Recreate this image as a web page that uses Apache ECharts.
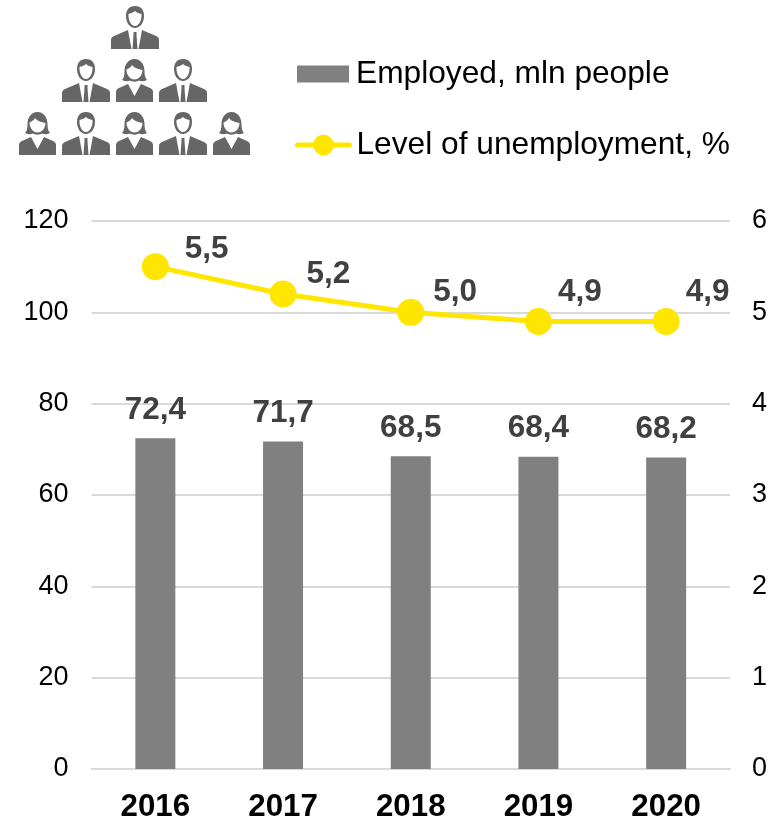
<!DOCTYPE html>
<html>
<head>
<meta charset="utf-8">
<style>html,body{margin:0;padding:0;background:#fff}#chart{width:784px;height:820px}</style>
<script src="https://cdn.jsdelivr.net/npm/echarts@6/dist/echarts.min.js"></script>
</head>
<body>
<div id="chart"></div>
<script>
const years = ['2016', '2017', '2018', '2019', '2020'];
const employed = [72.4, 71.7, 68.5, 68.4, 68.2];
const unemployment = [5.5, 5.2, 5.0, 4.9, 4.9];
const employedTicks = { min: 0, max: 120, interval: 20 };
const unemploymentTicks = { min: 0, max: 6, interval: 1 };

// Per-point nudges for the unemployment labels
const rateLabelOffsets = [[16, -17], [10, -20], [9, -20], [6, -29], [6, -29]];

const FONT = '"Liberation Sans", Arial, sans-serif';
const comma = v => v.toFixed(1).replace('.', ',');

// Pictograms in a 48x43 box; inner subpaths wind the other way to cut out faces and shirts
const manIcon = 'M24 0C30 0 33 4 33 10C33 17 29 22 24 22C19 22 15 17 15 10C15 4 18 0 24 0Z' +
  'M24 5C22 7 19 7.5 17.5 8C17 14 20 20 24 20C28 20 31 14 30.5 8C28 7.5 26 7 24 5Z' +
  'M0 43L0 34C0 32 1 31 3 30L17 24L20.5 43Z' +
  'M48 43L48 34C48 32 47 31 45 30L31 24L27.5 43Z' +
  'M22.5 26L25.5 26L25.5 29L26.5 43L21.5 43L22.5 29Z';
const womanIcon = 'M18.5 0C25 0 28.5 6 28.5 12C28.5 16 29 19 31 21C28 22.5 25 22.5 23 21.5C21 23 16 23 14 21.5C12 22.5 9 22.5 6 21C8 19 8.5 16 8.5 12C8.5 6 12 0 18.5 0Z' +
  'M16 6C15 8 12.5 10 10.5 10.5C10.5 16 14 20.5 18.5 20.5C23 20.5 26.5 16 26.5 11C22 10 18 9 16 6Z' +
  'M0 43L0 33C0 31 1 30 3 29L12 25L18.5 37L25 25L34 29C36 30 37 31 37 33L37 43Z';

const iconPlacements = [
  ['man', 111, 6],
  ['man', 62, 59], ['woman', 116, 59], ['man', 159, 59],
  ['woman', 19, 112], ['man', 62, 112], ['woman', 116, 112], ['man', 159, 112], ['woman', 213, 112]
];

const chart = echarts.init(document.getElementById('chart'), null, { renderer: 'canvas' });
chart.setOption({
  backgroundColor: '#ffffff',
  animation: false,
  textStyle: { fontFamily: FONT },
  legend: [
    {
      left: 297, top: 58, itemWidth: 52, itemHeight: 17, padding: 0,
      icon: 'rect',
      data: ['Employed, mln people'],
      textStyle: { fontSize: 31.7, color: '#000000', fontFamily: FONT, padding: [4, 0, 0, 2] }
    },
    {
      left: 295, top: 129, itemWidth: 52, itemHeight: 26, padding: 0,
      lineStyle: { width: 5, cap: 'round' },
      data: ['Level of unemployment, %'],
      textStyle: { fontSize: 31.7, color: '#000000', fontFamily: FONT, padding: [2, 0, 0, 2] }
    }
  ],
  grid: { left: 91.5, right: 54, top: 221, bottom: 51, outerBoundsMode: 'none' },
  xAxis: {
    type: 'category',
    data: years,
    axisTick: { show: false },
    axisLine: { lineStyle: { color: '#D9D9D9', width: 2 } },
    axisLabel: { fontSize: 31.3, fontWeight: 'bold', color: '#000000', margin: 23, fontFamily: FONT }
  },
  yAxis: [
    {
      type: 'value',
      ...employedTicks,
      axisLine: { show: false },
      axisTick: { show: false },
      splitLine: { lineStyle: { color: '#D9D9D9', width: 2 } },
      axisLabel: { fontSize: 27, color: '#000000', margin: 23, fontFamily: FONT, padding: [3, 0, 0, 0] }
    },
    {
      type: 'value',
      position: 'right',
      ...unemploymentTicks,
      axisLine: { show: false },
      axisTick: { show: false },
      splitLine: { show: false },
      axisLabel: { fontSize: 27, color: '#000000', margin: 22, fontFamily: FONT, padding: [3, 0, 0, 0] }
    }
  ],
  series: [
    {
      name: 'Employed, mln people',
      type: 'bar',
      data: employed,
      barWidth: 40,
      itemStyle: { color: '#808080' },
      label: {
        show: true, position: 'top', distance: 12,
        formatter: p => comma(p.value),
        fontSize: 31.5, fontWeight: 'bold', color: '#404040', fontFamily: FONT
      }
    },
    {
      name: 'Level of unemployment, %',
      type: 'line',
      yAxisIndex: 1,
      data: unemployment.map((value, i) => ({
        value,
        label: { offset: rateLabelOffsets[i] }
      })),
      symbol: 'circle',
      symbolSize: 27,
      lineStyle: { color: '#FFE600', width: 5, cap: 'round' },
      itemStyle: { color: '#FFE600' },
      label: {
        show: true, position: 'right', distance: 0,
        formatter: p => comma(p.value),
        fontSize: 31.5, fontWeight: 'bold', color: '#404040', fontFamily: FONT
      }
    },
    {
      // Staff pyramid above the chart
      name: 'staff',
      type: 'custom',
      coordinateSystem: 'none',
      silent: true,
      data: iconPlacements.map((_, i) => i),
      renderItem: (params) => {
        const [kind, x, y] = iconPlacements[params.dataIndex];
        const isMan = kind === 'man';
        return {
          type: 'path',
          shape: { pathData: isMan ? manIcon : womanIcon, x, y, width: isMan ? 48 : 37, height: 43, layout: 'cover' },
          style: { fill: '#666666' }
        };
      }
    }
  ]
});
</script>
</body>
</html>
